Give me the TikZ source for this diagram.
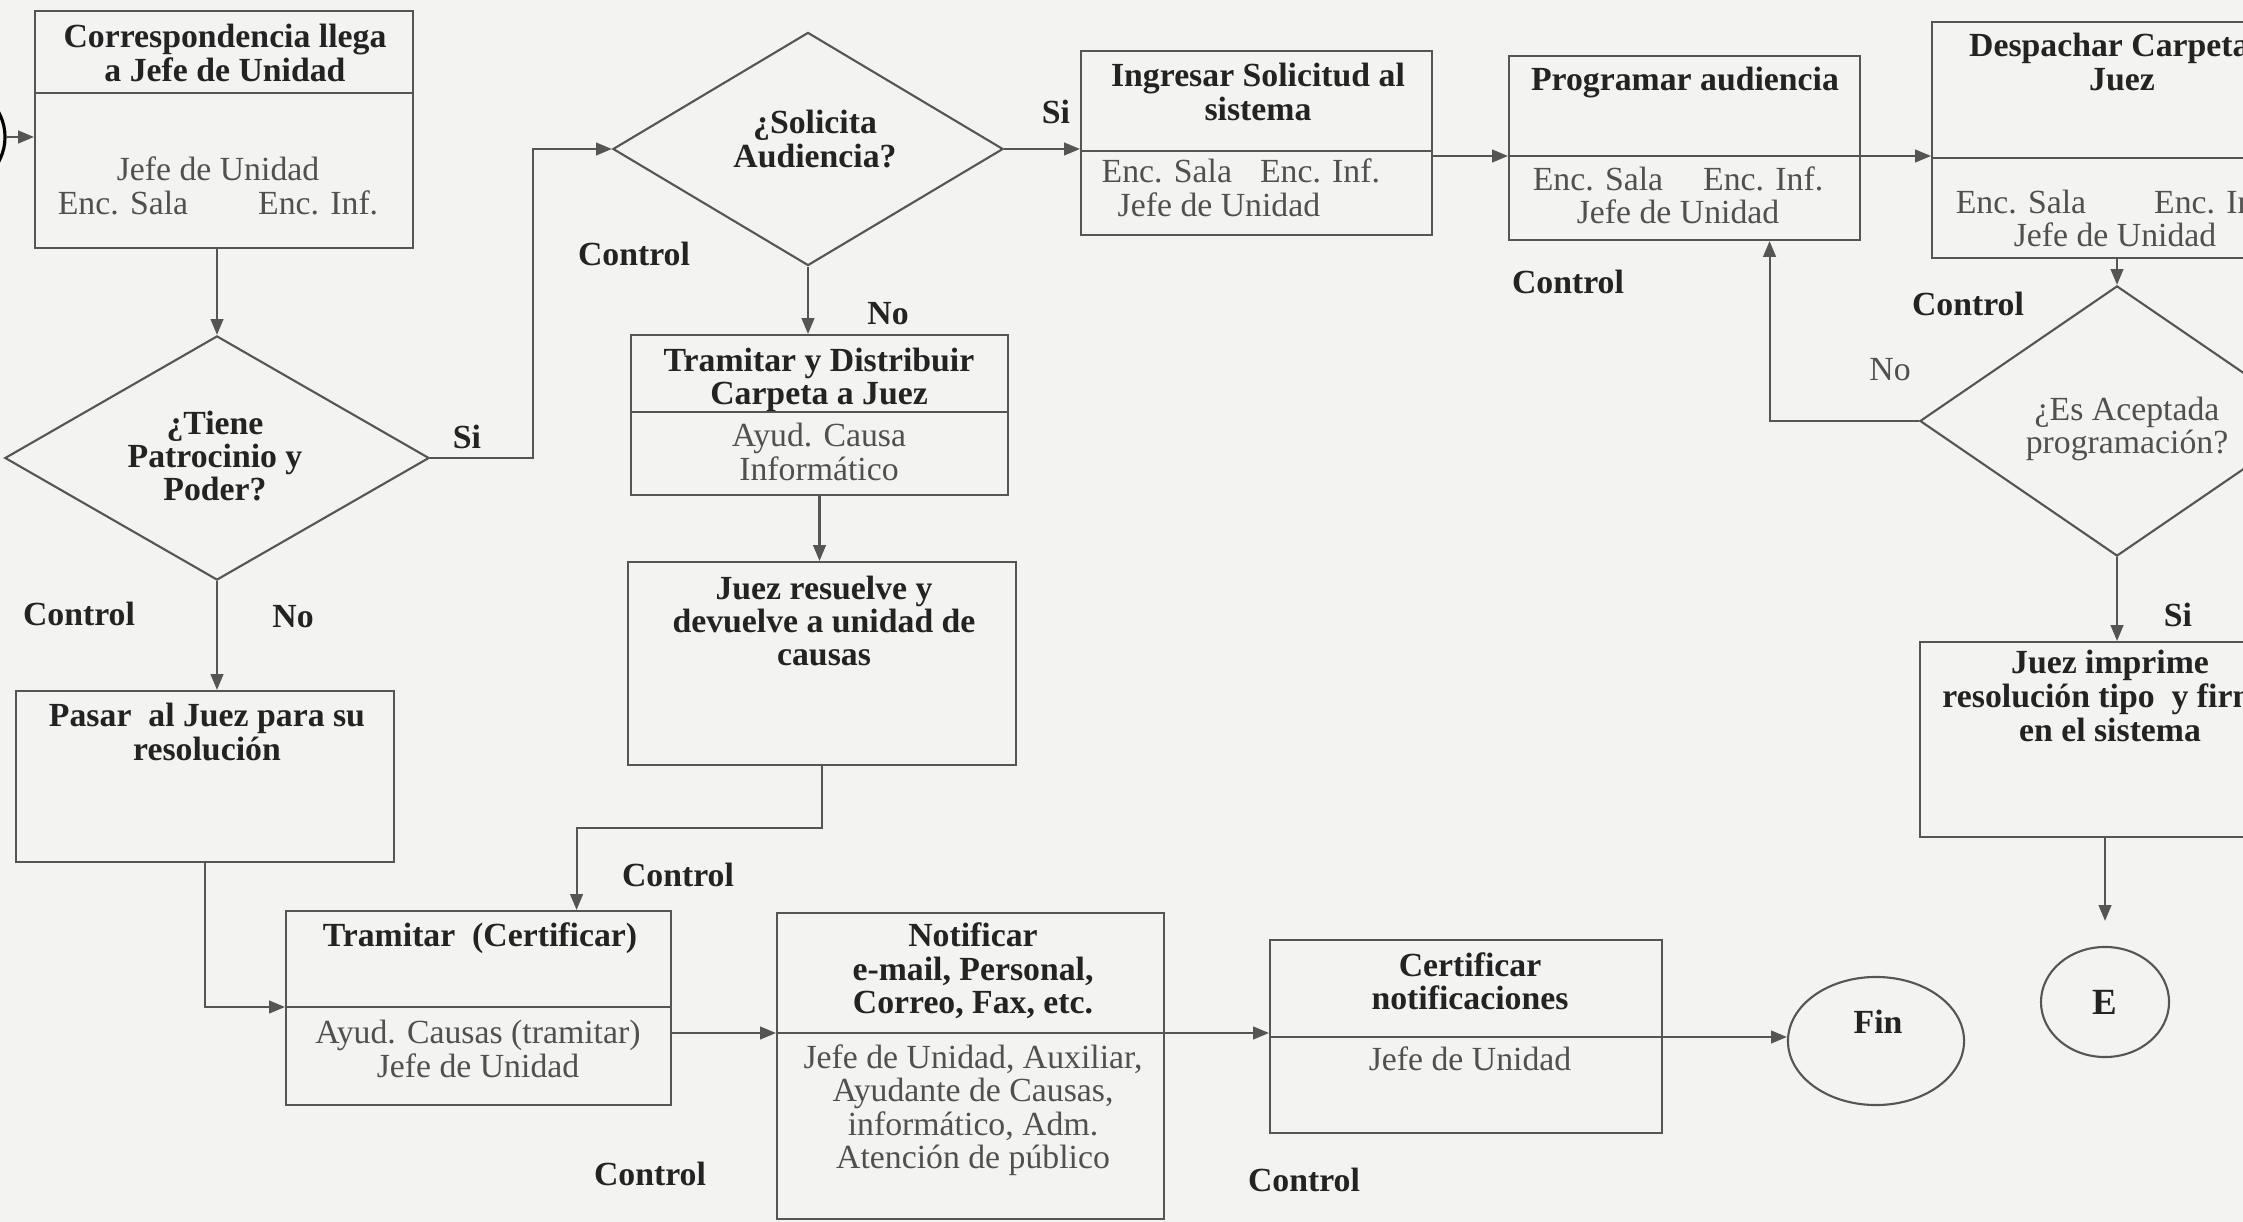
\documentclass[tikz,border=0pt]{standalone}
\usepackage{fontspec}
\setmainfont{Liberation Serif}
\usetikzlibrary{arrows.meta,shapes.geometric,fit}
\definecolor{paper}{RGB}{243,243,241}
\definecolor{ink}{RGB}{85,85,85}
\definecolor{txt}{RGB}{35,35,35}
\definecolor{txtsoft}{RGB}{80,80,80}
\begin{document}
\begin{tikzpicture}[x=0.01cm,y=-0.01cm,
    box/.style={draw=ink,line width=0.6pt,inner sep=0pt},
    decision/.style={diamond,draw=ink,line width=0.6pt,inner sep=0pt},
    terminal/.style={ellipse,draw=ink,line width=0.6pt,inner sep=0pt},
    title/.style={font=\fontsize{9.6}{9.5}\selectfont\bfseries,text=txt,align=center,inner sep=0pt},
    role/.style={font=\fontsize{9.6}{9.5}\selectfont,text=txtsoft,align=center,inner sep=0pt},
    tag/.style={font=\fontsize{9.6}{9.5}\selectfont\bfseries,text=txt,inner sep=0pt},
    line/.style={draw=ink,line width=0.6pt},
    arr/.style={draw=ink,line width=0.6pt,-{Triangle[length=4.5pt,width=3.6pt]}}]

    \useasboundingbox (0,0) rectangle (2243,1222);
    \clip (0,0) rectangle (2243,1222);
    \fill[paper] (0,0) rectangle (2243,1222);

    % left column
    \node[terminal,draw=black,line width=0.9pt,minimum width=1.28cm,minimum height=1.14cm] (inicio) at (-59,137) {};
    \node[box,fit={(35,11) (413,248)}] (corr) {};
    \draw[line] (corr.west |- 0,93) -- (corr.east |- 0,93);
    \node[title] (corrT) at (225,53) {Correspondencia llega\\a Jefe de Unidad};
    \node[role] (corrR) at (218,186) {Jefe de Unidad\\Enc. Sala\hspace{0.7cm}Enc. Inf.};

    \node[decision,minimum width=4.24cm,minimum height=2.44cm] (tiene) at (217,458) {};
    \node[title] (tieneT) at (215,456) {¿Tiene\\Patrocinio y\\Poder?};

    \node[box,fit={(16,691) (394,862)}] (pasar) {};
    \node[title] (pasarT) at (207,732) {Pasar\ \ al Juez para su\\resolución};

    % middle column
    \node[decision,minimum width=3.90cm,minimum height=2.33cm] (solic) at (808,149) {};
    \node[title] (solicT) at (815,139) {¿Solicita\\Audiencia?};

    \node[box,fit={(631,335) (1008,495)}] (tram) {};
    \draw[line] (tram.west |- 0,412) -- (tram.east |- 0,412);
    \node[title] (tramT) at (819,380) {Tramitar y Distribuir\\Carpeta a Juez};
    \node[role] (tramR) at (819,452) {Ayud. Causa\\Informático};

    \node[box,fit={(628,562) (1016,765)}] (juezr) {};
    \node[title] (juezrT) at (824,621) {Juez resuelve y\\devuelve a unidad de\\causas};

    % bottom row
    \node[box,fit={(286,911) (671,1105)}] (tcert) {};
    \draw[line] (tcert.west |- 0,1007) coordinate (tcertW) -- (tcert.east |- 0,1007);
    \node[title,anchor=base] (tcertT) at (480,946) {Tramitar\ \ (Certificar)};
    \node[role] (tcertR) at (478,1049) {Ayud. Causas (tramitar)\\Jefe de Unidad};

    \node[box,fit={(777,913) (1164,1219)}] (notif) {};
    \draw[line] (notif.west |- 0,1033) coordinate (notifW) -- (notif.east |- 0,1033) coordinate (notifE);
    \node[title] (notifT) at (973,971) {Notificar\\e-mail, Personal,\\Correo, Fax, etc.};
    \node[role] (notifR) at (973,1110) {Jefe de Unidad, Auxiliar,\\Ayudante de Causas,\\informático, Adm.\\Atención de público};

    \node[box,fit={(1270,940) (1662,1133)}] (certn) {};
    \draw[line] (certn.west |- 0,1037) coordinate (certnW) -- (certn.east |- 0,1037) coordinate (certnE);
    \node[title] (certnT) at (1470,981) {Certificar\\notificaciones};
    \node[role,anchor=base] (certnR) at (1470,1070) {Jefe de Unidad};

    \node[terminal,minimum width=1.76cm,minimum height=1.28cm] (fin) at (1876,1041) {};
    \node[tag] (finT) at (1878,1022) {Fin};

    % top row
    \node[box,fit={(1081,51) (1432,235)}] (ingr) {};
    \draw[line] (ingr.west |- 0,151) -- (ingr.east |- 0,151);
    \node[title] (ingrT) at (1258,92) {Ingresar Solicitud al\\sistema};
    \node[role,anchor=base west] (ingrR1) at (1101,183) {Enc. Sala\hspace{0.28cm}Enc. Inf.};
    \node[role,anchor=base west] (ingrR2) at (1117,217) {Jefe de Unidad};

    \node[box,fit={(1509,56) (1860,240)}] (prog) {};
    \draw[line] (prog.west |- 0,156) coordinate (progW) -- (prog.east |- 0,156) coordinate (progE);
    \node[title,anchor=base] (progT) at (1685,91) {Programar audiencia};
    \node[role] (progR) at (1678,195) {Enc. Sala\hspace{0.4cm}Enc. Inf.\\Jefe de Unidad};

    \node[box,fit={(1932,22) (2312,258)}] (desp) {};
    \draw[line] (desp.west |- 0,158) coordinate (despW) -- (desp.east |- 0,158);
    \node[title] (despT) at (2122,62) {Despachar Carpeta a\\Juez};
    \node[role] (despR) at (2115,218) {Enc. Sala\hspace{0.68cm}Enc. Inf.\\Jefe de Unidad};

    \node[decision,minimum width=3.94cm,minimum height=2.70cm] (acept) at (2117,421) {};
    \node[role] (aceptT) at (2127,429) {¿Es Aceptada\\programación?};

    \node[box,fit={(1920,642) (2300,837)}] (imp) {};
    \node[title,font=\fontsize{9.6}{8.3}\selectfont\bfseries] (impT) at (2110,696) {Juez imprime\\resolución tipo\ \ y firma\\en el sistema};

    \node[terminal,minimum width=1.28cm,minimum height=1.10cm,font=\fontsize{10.5}{11}\selectfont\bfseries,text=txt] (salida) at (2105,1002) {E};

    % connectors
    \draw[arr] (inicio.east) -- (corr.west |- inicio.east);
    \draw[arr] (tiene.north |- corr.south) -- (tiene.north);
    \draw[arr] (tiene.east) -- ++(103,0) |- (solic.west);
    \draw[arr] (tiene.south) -- (tiene.south |- pasar.north);
    \draw[arr] (pasar.south) |- (tcertW);
    \draw[arr] (solic.east) -- (solic.east -| ingr.west);
    \draw[arr] (solic.south) -- (solic.south |- tram.north);
    \draw[arr] (tram.south) -- (tram.south |- juezr.north);
    \draw[arr] (juezr.south) -- ++(0,62) -| ([xshift=0.98cm]tcert.north);
    \draw[arr] (tcert.east |- notifW) -- (notifW);
    \draw[arr] (notifE) -- (notifE -| certnW);
    \draw[arr] (certnE) -- (certnE -| fin.west);
    \draw[arr] (ingr.east |- progW) -- (progW);
    \draw[arr] (progE) -- (progE -| despW);
    \draw[arr] (desp.south -| acept.north) -- (acept.north);
    \draw[arr] (acept.west) -| ([xshift=0.85cm]prog.south);
    \draw[arr] (acept.south) -- (acept.south |- imp.north);
    \draw[arr] (imp.south -| salida.north) -- ([yshift=0.25cm]salida.north);

    % labels
    \node[tag] (siA) at (467,437) {Si};
    \node[tag] (noA) at (293,617) {No};
    \node[tag] (siB) at (1056,112) {Si};
    \node[tag] (noB) at (888,314) {No};
    \node[role] (noC) at (1890,370) {No};
    \node[tag] (siC) at (2178,615) {Si};
    \foreach \px/\py [count=\i] in {79/614, 634/254, 678/875, 650/1174, 1304/1180, 1568/282, 1968/304}
        \node[tag] (ctl\i) at (\px,\py) {Control};

\end{tikzpicture}
\end{document}
